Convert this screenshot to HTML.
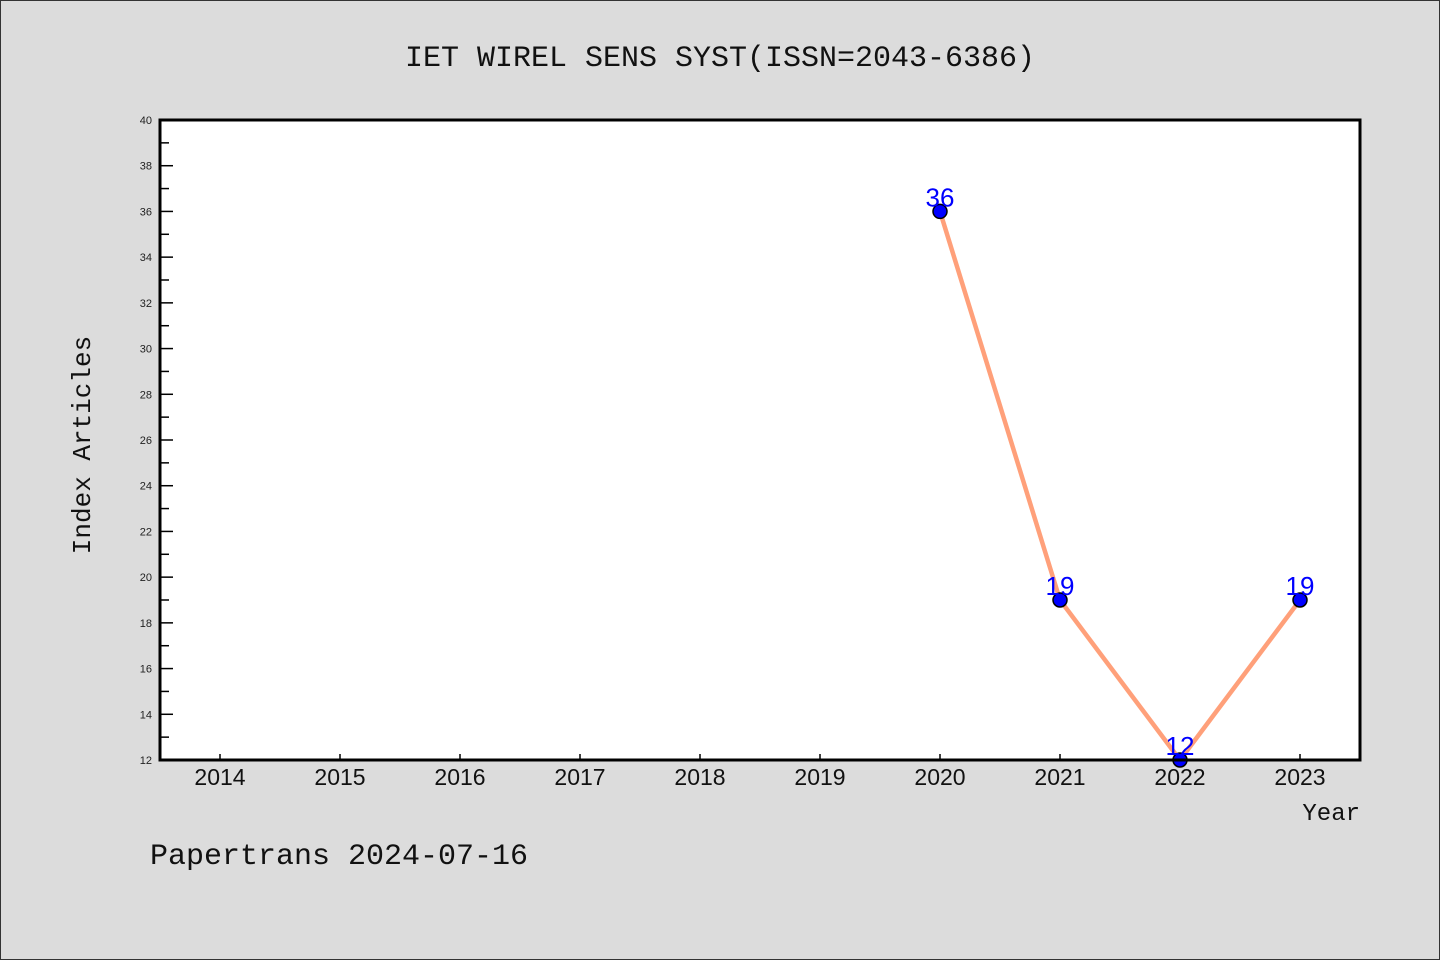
<!DOCTYPE html>
<html><head><meta charset="utf-8"><style>
html,body{margin:0;padding:0;background:#dcdcdc;}
svg{display:block;font-family:"Liberation Mono","DejaVu Sans Mono",monospace;}
</style></head><body>
<svg width="1440" height="960" viewBox="0 0 1440 960">
<rect x="0.5" y="0.5" width="1439" height="959" fill="#dcdcdc" stroke="#333" stroke-width="1"/>
<text x="720" y="66" text-anchor="middle" font-size="30" fill="#111">IET WIREL SENS SYST(ISSN=2043-6386)</text>
<rect x="160" y="120" width="1200" height="640" fill="#fff"/>
<g id="axes"></g>
<g id="marks"></g>
<rect x="160" y="120" width="1200" height="640" fill="none" stroke="#000" stroke-width="3"/>
<text x="90" y="445" transform="rotate(-90 90 445)" text-anchor="middle" font-size="26" fill="#111">Index Articles</text>
<text x="1360" y="820" text-anchor="end" font-size="24" fill="#111">Year</text>
<text x="150" y="864" font-size="30" fill="#111">Papertrans 2024-07-16</text>
</svg>
<script>
const years=[2014,2015,2016,2017,2018,2019,2020,2021,2022,2023];
const dataYears=[2020,2021,2022,2023];
const dataValues=[36,19,12,19];
const yTicks=[12,14,16,18,20,22,24,26,28,30,32,34,36,38,40];
const NS="http://www.w3.org/2000/svg";
const xS=v=>160+(v-2013.5)*120;
const yS=v=>760-(v-12)*(640/28);
function mk(tag,attrs,parent,txt){const e=document.createElementNS(NS,tag);for(const k in attrs)e.setAttribute(k,attrs[k]);if(txt!==undefined)e.textContent=txt;parent.appendChild(e);return e;}
const axes=document.getElementById('axes'),marks=document.getElementById('marks');
for(let v=13;v<40;v+=2){const t=mk('line',{x1:161,x2:169,y1:yS(v),y2:yS(v),stroke:'#000','stroke-width':1.5},axes);

}
yTicks.forEach(v=>{const t=mk('line',{x1:161,x2:173,y1:yS(v),y2:yS(v),stroke:'#000','stroke-width':1.5},axes);


const l=mk('text',{x:152,y:yS(v)+4,'text-anchor':'end','font-size':11,fill:'#222','font-family':'Liberation Sans, sans-serif'},axes,v);

});
years.forEach(v=>{const t=mk('line',{x1:xS(v),x2:xS(v),y1:760,y2:754,stroke:'#000','stroke-width':1.5},axes);


const l=mk('text',{x:xS(v),y:785,'text-anchor':'middle','font-size':23,fill:'#111','font-family':'Liberation Sans, sans-serif'},axes,v);

});
const pts=dataYears.map((y,i)=>xS(y)+','+yS(dataValues[i])).join(' ');
const line=mk('polyline',{points:pts,fill:'none',stroke:'#ffa07a','stroke-width':4.5,'stroke-linejoin':'round'},marks);


dataYears.forEach((y,i)=>{const c=mk('circle',{cx:xS(y),cy:yS(dataValues[i]),r:7,fill:'#0000ff',stroke:'#000','stroke-width':1.5},marks);


const l=mk('text',{x:xS(y),y:yS(dataValues[i])-5,'text-anchor':'middle','font-size':26,fill:'#0000ff','font-family':'Liberation Sans, sans-serif'},marks,dataValues[i]);

});
</script>
</body></html>
